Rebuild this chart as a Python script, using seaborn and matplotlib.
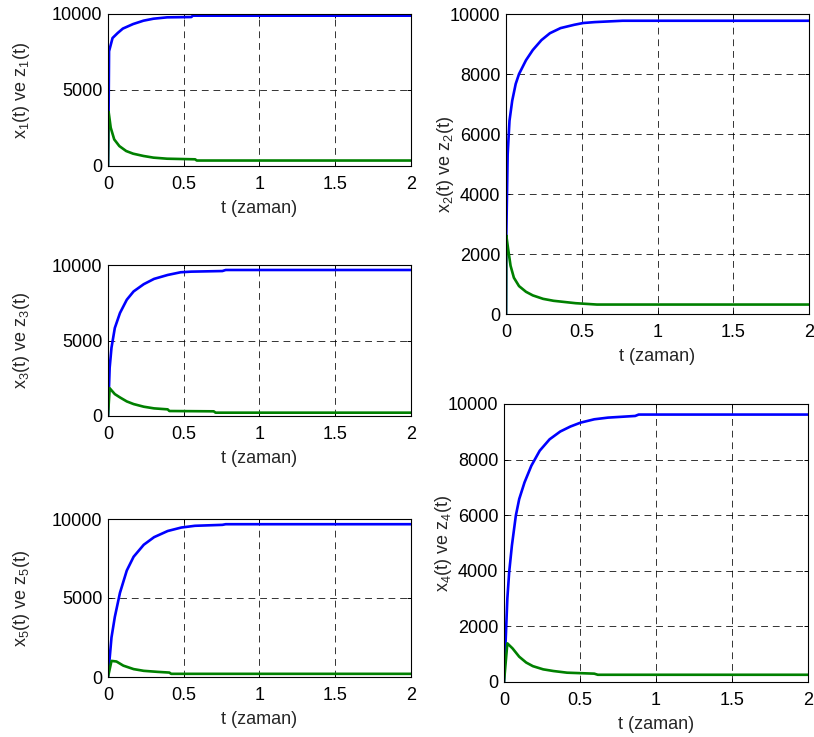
import numpy as np
import pandas as pd
import matplotlib
matplotlib.use("Agg")
import matplotlib.pyplot as plt
import seaborn as sns

sns.set_style("white")
plt.rcParams['font.family'] = ['Liberation Sans', 'DejaVu Sans']
plt.rcParams['mathtext.fontset'] = 'custom'
plt.rcParams['mathtext.rm'] = 'Liberation Sans'
plt.rcParams['mathtext.it'] = 'Liberation Sans'

# ---- data ----
t1x = [0, 0.004, 0.007, 0.03, 0.064, 0.098, 0.166, 0.234, 0.30, 0.39, 0.55, 0.56, 2.0]
x1 = [0, 3570, 7550, 8420, 8750, 9040, 9340, 9560, 9690, 9780, 9800, 9890, 9890]
t1z = [0, 0.004, 0.018, 0.041, 0.075, 0.12, 0.166, 0.234, 0.30, 0.39, 0.575, 0.586, 2.0]
z1 = [0, 3570, 2520, 1750, 1310, 985, 810, 660, 550, 480, 440, 360, 360]

t2x = [0, 0.002, 0.011, 0.023, 0.041, 0.064, 0.086, 0.132, 0.177, 0.234, 0.29, 0.36, 0.45,
       0.51, 0.586, 0.77, 2.0]
x2 = [0, 2620, 5320, 6440, 7110, 7670, 8000, 8460, 8800, 9130, 9360, 9530, 9640,
      9700, 9730, 9775, 9775]
t2z = [0, 0.002, 0.014, 0.03, 0.052, 0.086, 0.132, 0.177, 0.245, 0.314, 0.405, 0.46, 0.6, 2.0]
z2 = [0, 2620, 2170, 1610, 1210, 930, 740, 620, 505, 440, 390, 360, 315, 315]

t3x = [0, 0.011, 0.023, 0.045, 0.079, 0.124, 0.169, 0.236, 0.304, 0.394, 0.48, 0.55,
       0.755, 0.777, 2.0]
x3 = [0, 3200, 4520, 5830, 6820, 7700, 8250, 8730, 9080, 9340, 9520, 9560,
      9600, 9670, 9670]
t3z = [0, 0.011, 0.045, 0.079, 0.124, 0.169, 0.236, 0.304, 0.394, 0.405, 0.698, 0.71, 2.0]
z3 = [0, 1840, 1450, 1230, 965, 790, 615, 505, 440, 330, 310, 220, 220]

t4x = [0, 0.022, 0.034, 0.052, 0.078, 0.10, 0.135, 0.18, 0.235, 0.30, 0.37, 0.437,
       0.504, 0.594, 0.684, 0.863, 0.886, 2.0]
x4 = [0, 3000, 3950, 4910, 5990, 6580, 7180, 7780, 8320, 8730, 9010, 9190,
      9330, 9450, 9510, 9570, 9620, 9620]
t4z = [0, 0.022, 0.056, 0.10, 0.146, 0.19, 0.258, 0.325, 0.415, 0.594, 0.617, 2.0]
z4 = [0, 1390, 1210, 910, 700, 570, 455, 395, 335, 300, 260, 260]

t5x = [0, 0.023, 0.045, 0.079, 0.124, 0.169, 0.236, 0.304, 0.394, 0.484, 0.574,
       0.755, 0.777, 2.0]
x5 = [0, 2500, 3800, 5330, 6740, 7610, 8370, 8850, 9240, 9460, 9570,
      9630, 9670, 9670]
t5z = [0, 0.023, 0.056, 0.101, 0.169, 0.236, 0.327, 0.405, 0.417, 2.0]
z5 = [0, 1020, 980, 720, 500, 390, 325, 280, 200, 200]

xticks = [0, 0.5, 1, 1.5, 2]
xticklabels = ["0", "0.5", "1", "1.5", "2"]
yticks_short = [0, 5000, 10000]
yticks_tall = [0, 2000, 4000, 6000, 8000, 10000]

W, H = 814, 737
fig = plt.figure(figsize=(W / 100, H / 100), dpi=100)

def rect(l, r, t, b):
    return [l / W, 1 - b / H, (r - l) / W, (b - t) / H]

panels = [
    (rect(108, 411, 14, 166), t1x, x1, t1z, z1, 1, yticks_short, 14),
    (rect(506, 809, 14, 314), t2x, x2, t2z, z2, 2, yticks_tall, -4.5),
    (rect(108, 411, 265, 416), t3x, x3, t3z, z3, 3, yticks_short, 14),
    (rect(504, 808, 404, 682), t4x, x4, t4z, z4, 4, yticks_tall, -4.5),
    (rect(108, 411, 519, 677), t5x, x5, t5z, z5, 5, yticks_short, 14),
]

for pos, tx, xv, tz, zv, k, yt, ylp in panels:
    ax = fig.add_axes(pos)
    dfx = pd.DataFrame({"t": tx, "v": xv})
    dfz = pd.DataFrame({"t": tz, "v": zv})
    sns.lineplot(data=dfx, x="t", y="v", ax=ax, color=(0, 0, 1), lw=1.9)
    sns.lineplot(data=dfz, x="t", y="v", ax=ax, color=(0, 0.5, 0), lw=1.9)
    ax.set_xlim(0, 2)
    ax.set_ylim(0, 10000)
    ax.set_xticks(xticks)
    ax.set_xticklabels(xticklabels)
    ax.set_yticks(yt)
    ax.set_yticklabels([str(v) for v in yt])
    ax.grid(True, color='black', linestyle=(0, (7, 5)), linewidth=0.7, alpha=0.8)
    ax.tick_params(axis='both', direction='in', length=3, width=0.7, top=True, right=True,
                   bottom=True, left=True, labelsize=13, colors='black')
    ax.tick_params(axis='x', pad=7)
    ax.tick_params(axis='y', pad=4)
    for s in ax.spines.values():
        s.set_color('black')
        s.set_linewidth(0.8)
    ax.set_xlabel("t (zaman)", fontsize=13, labelpad=5)
    ax.set_ylabel(f"x$_{k}$(t) ve z$_{k}$(t)", fontsize=13, labelpad=ylp)

fig.savefig("out.png", dpi=100)
